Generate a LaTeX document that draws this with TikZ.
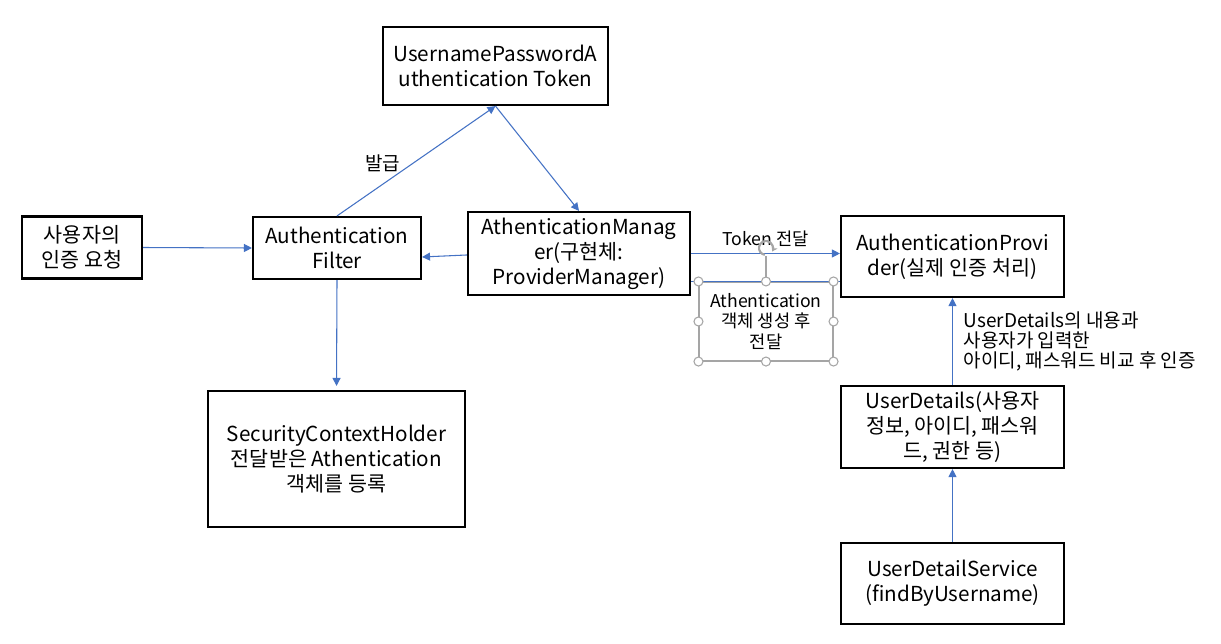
\documentclass[tikz,border=0pt]{standalone}
\usepackage{fontspec}
\setmainfont{Noto Sans CJK KR}
\usetikzlibrary{arrows.meta}
\definecolor{linkblue}{RGB}{68,114,196}
\definecolor{handlegray}{RGB}{165,165,165}
\newcommand{\boxtext}{\fontsize{15.5}{18.75}\selectfont}
\newcommand{\notetext}{\fontsize{13.25}{15.5}\selectfont}
\newcommand{\sidetext}{\fontsize{14.25}{15.25}\selectfont}
\tikzset{
    box/.style = {draw = black, line width = 1.6pt, align = center, inner sep = 2pt, font = \boxtext},
    link/.style = {draw = linkblue, line width = 0.8pt, -{Triangle[length = 6pt, width = 6pt]}},
    note/.style = {font = \notetext, inner sep = 1pt},
    handle/.style = {draw = handlegray, fill = white, line width = 0.8pt}
}
\begin{document}
\begin{tikzpicture}[x = 0.75pt, y = -0.75pt]
    \useasboundingbox (0,0) rectangle (1221,643);

    % Draw the boxes:
    \node [box, minimum width = 90pt,     minimum height = 46.5pt]  (request) at (82,247.5)   {사용자의\\인증 요청};
    \node [box, minimum width = 126pt,    minimum height = 46.5pt]  (filter)  at (337,248)    {Authentication\\Filter};
    \node [box, minimum width = 168.75pt, minimum height = 58.5pt]  (token)   at (495.5,66)   {UsernamePasswordA\\uthentication Token};
    \node [box, minimum width = 166.5pt,  minimum height = 62.25pt] (manager) at (579,253.5)  {AthenticationManag\\er(구현체:\\ProviderManager)};
    \node [box, minimum width = 167.25pt, minimum height = 60.75pt] (provider) at (952.5,256.5) {AuthenticationProvi\\der(실제 인증 처리)};
    \node [box, minimum width = 167.25pt, minimum height = 61.5pt]  (details) at (952.5,427)  {UserDetails(사용자\\정보, 아이디, 패스워\\드, 권한 등)};
    \node [box, minimum width = 167.25pt, minimum height = 60.75pt] (service) at (952.5,583.5) {UserDetailService\\(findByUsername)};
    \node [box, minimum width = 192.75pt, minimum height = 102pt]   (holder)  at (336.5,459)  {SecurityContextHolder\\전달받은 Athentication\\객체를 등록};

    % Draw the connectors:
    \draw [link] (request.east) -- (filter.west);
    \draw [link] (filter.north) -- (token.south)
        node [note, font = \sidetext, pos = 0.29, above = 8pt] (issue) {발급};
    \draw [link] (token.south) -- (manager.north);
    \draw [link] ([yshift = -1.1pt]manager.west) -- ([yshift = -6.75pt]filter.east);
    \draw [link, shorten > = 3pt] (filter.south) -- (holder.north);
    \draw [link] (manager.east) -- (manager.east -| provider.west)
        node [note, midway, above = 4pt] (pass) {Token 전달};
    \draw [link] (details.north) -- (provider.south)
        node [note, font = \sidetext, midway, right = 7pt, align = left] (compare) {UserDetails의 내용과\\사용자가 입력한\\아이디, 패스워드 비교 후 인증};
    \draw [link] (service.north) -- (details.south);

    % Draw the selected text box:
    \node [note, draw = handlegray, line width = 0.8pt, minimum width = 100.5pt, minimum height = 59.25pt, align = center]
        (created) at (766,321.5) {Athentication\\객체 생성 후\\전달};
    \draw [linkblue, line width = 0.8pt] (created.north -| manager.east) -- (created.north -| provider.west);
    \draw [handlegray, line width = 0.8pt] (created.north) -- (766,256);
    \foreach \where in {north west, north, north east, east, south east, south, south west, west}
        \draw [handle] (created.\where) circle (4.5);
    \draw [handlegray, line width = 1.6pt, -{Stealth[length = 4pt, width = 5pt]}]
        (766,248) ++(100:7) arc [start angle = 100, end angle = 390, radius = 7];
\end{tikzpicture}
\end{document}
